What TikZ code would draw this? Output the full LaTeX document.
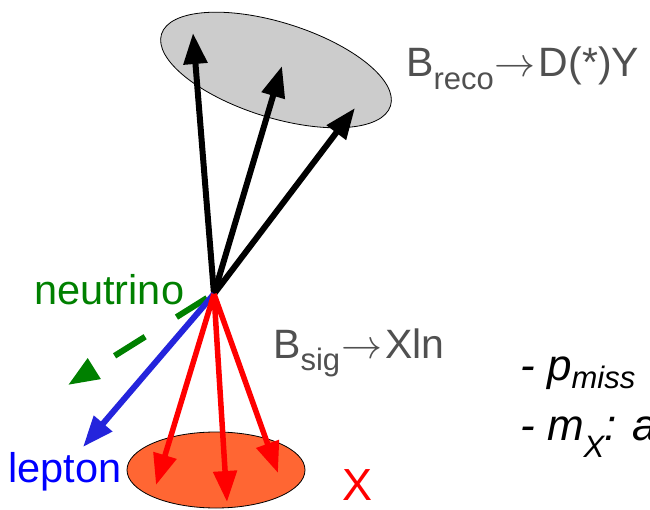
\documentclass[tikz,border=0pt]{standalone}
\usepackage{graphicx}
\usepackage{fontspec}
\setmainfont{Liberation Sans}
\usepackage{tikz}
\usetikzlibrary{
  arrows.meta,
  positioning
}
\definecolor{recofill}{RGB}{204, 204, 204}
\definecolor{xfill}{RGB}{255, 102, 51}
\definecolor{labelgray}{RGB}{80, 80, 80}
\definecolor{nucolor}{RGB}{0, 128, 0}
\definecolor{leptoncolor}{RGB}{36, 36, 220}
\definecolor{leptontext}{RGB}{0, 0, 255}
\definecolor{xcolor}{RGB}{255, 0, 0}
% lowered, smaller text for the subscripts
\newcommand{\lowtxt}[2][13pt]{\raisebox{-#1}{\fontsize{31}{33}\selectfont #2}}
\newcommand{\decayto}{\hspace{1pt}\resizebox{41pt}{!}{$\rightarrow$}\hspace{3pt}}
\tikzset{
blobshape/.style={
  draw=black,
  line width=0.8pt
},
track/.style={
  -{Triangle[length=31pt,width=23pt]},
  line width=6pt
},
bigtext/.style={
  font=\fontsize{41.5}{45}\selectfont,
  inner sep=0pt,
  anchor=base west
},
decaylabel/.style={
  bigtext,
  font=\fontsize{41}{45}\selectfont,
  text=labelgray
},
notelabel/.style={
  bigtext,
  font=\fontsize{44}{48}\selectfont\itshape,
  text=black
}
}

\begin{document}
\begin{tikzpicture}[x=1pt, y=-1pt]
    \clip (0,0) rectangle (650,510);

    % decay vertex
    \coordinate (vtx) at (214,294);

    % B reco side
    \draw[blobshape, fill=recofill, rotate around={-17.4:(276,70)}] (276,70) ellipse (120 and 47.5);
    \coordinate (k1) at (193,33);
    \coordinate (k2) at (282,66);
    \coordinate (k3) at (355,108);
    \draw[track] (vtx) -- (k1);
    \draw[track] (vtx) -- (k2);
    \draw[track] (vtx) -- (k3);
    \node[decaylabel] (breco) at (406,77) {B\lowtxt{reco}\decayto D(*)Y};

    % B sig side
    \draw[blobshape, fill=xfill] (216,470) ellipse (89 and 38);
    \coordinate (nustart) at (207,298);
    \coordinate (nutip) at (68,385);
    \coordinate (ltip) at (83,447);
    \coordinate (x1) at (156,485);
    \coordinate (x2) at (227,502);
    \coordinate (x3) at (278,473);
    \draw[track, draw=nucolor, dash pattern=on 36pt off 37pt] (nustart) -- (nutip);
    \draw[track, draw=leptoncolor] (vtx) -- (ltip);
    \draw[track, draw=xcolor, line width=5.5pt] (vtx) -- (x1);
    \draw[track, draw=xcolor, line width=5.5pt] (vtx) -- (x2);
    \draw[track, draw=xcolor, line width=5.5pt] (vtx) -- (x3);

    % labels
    \node[bigtext, text=nucolor] (nu) at (34,305) {neutrino};
    \node[bigtext, text=leptontext] (lep) at (8,482) {lepton};
    \node[bigtext, text=xcolor, font=\fontsize{45}{48}\selectfont] (xlab) at (342,500) {X};
    \node[decaylabel] (bsig) at (273,358) {B\lowtxt{sig}\decayto Xln};

    % variables
    \node[notelabel] (pmiss) at (520,380) {- p\lowtxt[8pt]{miss}};
    \node[notelabel] (mx) at (520,440) {- m\lowtxt[17pt]{X}: a};
  \end{tikzpicture}
\end{document}
